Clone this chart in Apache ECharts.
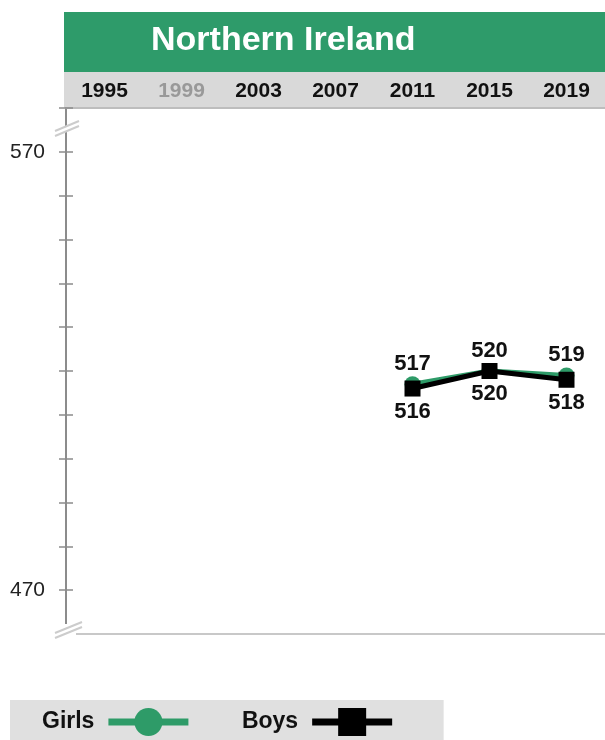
<!DOCTYPE html>
<html>
<head>
<meta charset="utf-8">
<script src="https://cdn.jsdelivr.net/npm/echarts@6/dist/echarts.min.js"></script>
<style>
  html, body { margin: 0; padding: 0; background: #fff; }
  #main { width: 605px; height: 740px; }
</style>
</head>
<body>
<div id="main"></div>
<script>
var years = ['1995', '1999', '2003', '2007', '2011', '2015', '2019'];
var greyYears = ['1999'];
var girls = [null, null, null, null, 517, 520, 519];
var boys = [null, null, null, null, 516, 520, 518];
var yLabels = [470, 570];

var font = '"Liberation Sans", Arial, sans-serif';
var green = '#2e9b68';

var myChart = echarts.init(document.getElementById('main'));

// axis break marks (decoration only)
function breakMark(x1, y1, x2, y2) {
    return [
        { type: 'polygon', z: 100, shape: { points: [[x1, y1], [x2, y2], [x2, y2 + 5], [x1, y1 + 5]] }, style: { fill: '#fff' } },
        { type: 'line', z: 101, shape: { x1: x1, y1: y1, x2: x2, y2: y2 }, style: { stroke: '#cccccc', lineWidth: 2 } },
        { type: 'line', z: 101, shape: { x1: x1, y1: y1 + 5, x2: x2, y2: y2 + 5 }, style: { stroke: '#cccccc', lineWidth: 2 } }
    ];
}

var option = {
    backgroundColor: '#fff',
    animation: false,
    textStyle: { fontFamily: font },
    graphic: [
        { type: 'rect', z: -1, shape: { x: 64, y: 12, width: 545, height: 60 }, style: { fill: '#2e9b6a' } },
        { type: 'rect', z: -1, shape: { x: 64, y: 72, width: 545, height: 36 }, style: { fill: '#d9d9d9' } },
        { type: 'text', x: 151, y: 41, style: { text: 'Northern Ireland', fill: '#fff', verticalAlign: 'middle', font: 'bold 34px ' + font } },
        { type: 'rect', z: 100, shape: { x: 50, y: 624, width: 26, height: 16 }, style: { fill: '#fff' } }
    ].concat(breakMark(55, 131, 79, 121)).concat(breakMark(55, 633, 82, 622)),
    grid: { left: 66, right: -5, top: 108, bottom: 106, containLabel: false },
    legend: {
        left: 10,
        top: 700,
        orient: 'horizontal',
        align: 'right',
        backgroundColor: '#e0e0e0',
        padding: [8, 48, 8, 32],
        itemWidth: 80,
        itemHeight: 35,
        itemGap: 50,
        lineStyle: { width: 7 },
        textStyle: { fontFamily: font, fontSize: 23, fontWeight: 'bold', color: '#111', padding: [0, 9, 0, 0] },
        data: ['Girls', 'Boys']
    },
    xAxis: [
        {
            type: 'category',
            position: 'top',
            data: years,
            axisLine: { show: true, lineStyle: { color: '#bdbdbd', width: 2 } },
            axisTick: { show: false },
            axisLabel: {
                margin: 6,
                fontFamily: font,
                fontSize: 21,
                fontWeight: 'bold',
                color: function (v) { return greyYears.indexOf(v) >= 0 ? '#999999' : '#111111'; }
            }
        },
        {
            type: 'category',
            position: 'bottom',
            data: years,
            axisLine: { show: true, lineStyle: { color: '#c8c8c8', width: 2 } },
            axisTick: { show: false },
            axisLabel: { show: false }
        }
    ],
    yAxis: [
        {
            type: 'value',
            min: 460,
            max: 580,
            interval: 10,
            axisLine: { show: true, lineStyle: { color: '#8c8c8c', width: 2 } },
            axisTick: { show: true, length: 7, lineStyle: { color: '#8c8c8c', width: 1.5 } },
            splitLine: { show: false },
            axisLabel: {
                margin: 21,
                fontFamily: font,
                fontSize: 21,
                color: '#222',
                formatter: function (v) { return yLabels.indexOf(v) >= 0 ? String(v) : ''; }
            }
        },
        {
            type: 'value',
            position: 'left',
            min: 460,
            max: 580,
            interval: 10,
            axisLine: { show: false },
            axisTick: { show: true, inside: true, length: 7, lineStyle: { color: '#8c8c8c', width: 1.5 } },
            splitLine: { show: false },
            axisLabel: { show: false }
        }
    ],
    series: [
        {
            name: 'Girls',
            type: 'line',
            data: girls,
            symbol: 'circle',
            symbolSize: 16,
            lineStyle: { color: green, width: 5 },
            itemStyle: { color: green },
            label: { show: true, position: 'top', distance: 1, fontFamily: font, fontSize: 22, fontWeight: 'bold', color: '#111' },
            z: 2
        },
        {
            name: 'Boys',
            type: 'line',
            data: boys,
            symbol: 'rect',
            symbolSize: 16,
            lineStyle: { color: '#000', width: 5 },
            itemStyle: { color: '#000' },
            label: { show: true, position: 'bottom', distance: 4, fontFamily: font, fontSize: 22, fontWeight: 'bold', color: '#111' },
            z: 3
        }
    ]
};
myChart.setOption(option);
</script>
</body>
</html>
